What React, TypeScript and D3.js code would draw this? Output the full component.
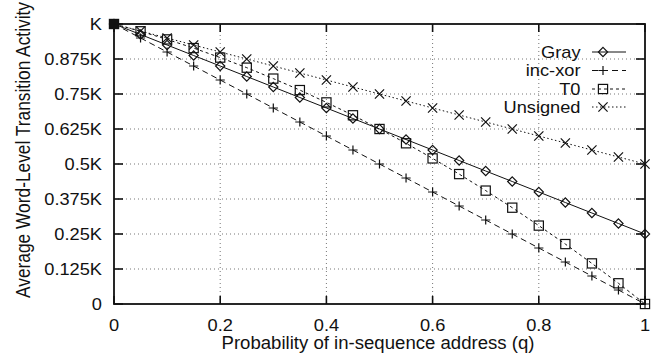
import React from "react";
import * as d3 from "d3";

const q = [0, 0.05, 0.1, 0.15, 0.2, 0.25, 0.3, 0.35, 0.4, 0.45, 0.5, 0.55, 0.6, 0.65, 0.7, 0.75, 0.8, 0.85, 0.9, 0.95, 1];
const gray = [1, 0.9625, 0.925, 0.8875, 0.85, 0.8125, 0.775, 0.7375, 0.7, 0.6625, 0.625, 0.5875, 0.55, 0.5125, 0.475, 0.4375, 0.4, 0.3625, 0.325, 0.2875, 0.25];
const incXor = [1, 0.95, 0.9, 0.85, 0.8, 0.75, 0.7, 0.65, 0.6, 0.55, 0.5, 0.45, 0.4, 0.35, 0.3, 0.25, 0.2, 0.15, 0.1, 0.05, 0];
const t0 = [1, 0.974, 0.945, 0.914, 0.88, 0.844, 0.805, 0.764, 0.72, 0.674, 0.625, 0.574, 0.52, 0.464, 0.405, 0.344, 0.28, 0.214, 0.145, 0.074, 0];
const unsigned = [1, 0.975, 0.95, 0.925, 0.9, 0.875, 0.85, 0.825, 0.8, 0.775, 0.75, 0.725, 0.7, 0.675, 0.65, 0.625, 0.6, 0.575, 0.55, 0.525, 0.5];

const seriesNames = ["Gray", "inc-xor", "T0", "Unsigned"];
const seriesValues = [gray, incXor, t0, unsigned];
const seriesMarkers = ["diamond", "plus", "square", "cross"];
const seriesDash = ["none", "6,4", "3,3", "1.5,2.5"];

const yTicks = [0, 0.125, 0.25, 0.375, 0.5, 0.625, 0.75, 0.875, 1];
const yTickLabels = ["0", "0.125K", "0.25K", "0.375K", "0.5K", "0.625K", "0.75K", "0.875K", "K"];
const xTicks = [0, 0.2, 0.4, 0.6, 0.8, 1];
const xTickLabels = ["0", "0.2", "0.4", "0.6", "0.8", "1"];

const FONT = "'Liberation Sans', Arial, Helvetica, sans-serif";
const SX = 1.14;
const FS = 16;

function Marker({ type, cx, cy }: { type: string; cx: number; cy: number }) {
  const s = 4.6;
  const common = { fill: "none", stroke: "#111", strokeWidth: 1.2 };
  if (type === "diamond")
    return <path d={`M${cx},${cy - s}L${cx + s},${cy}L${cx},${cy + s}L${cx - s},${cy}Z`} {...common} />;
  if (type === "square")
    return <rect x={cx - s} y={cy - s} width={2 * s} height={2 * s} {...common} />;
  if (type === "plus")
    return <path d={`M${cx - s},${cy}H${cx + s}M${cx},${cy - s}V${cy + s}`} {...common} />;
  return <path d={`M${cx - s},${cy - s}L${cx + s},${cy + s}M${cx - s},${cy + s}L${cx + s},${cy - s}`} {...common} />;
}

export default function App() {
  const x = d3.scaleLinear().domain([0, 1]).range([114, 645]);
  const y = d3.scaleLinear().domain([0, 1]).range([304, 24]);
  const line = d3
    .line<number>()
    .x((_, i) => x(q[i]))
    .y((d) => y(d));

  const legendY = [52, 70.5, 89, 107];

  return (
    <svg width={660} height={355} style={{ position: "absolute", left: 0, top: 0, background: "#fff" }} fontFamily={FONT}>
      <rect width={660} height={355} fill="#fff" />
      {/* grid */}
      <g stroke="#666" strokeWidth={0.9} strokeDasharray="1,3">
        {yTicks.slice(1, -1).map((t) => (
          <line key={"gy" + t} x1={x(0)} x2={x(1)} y1={y(t)} y2={y(t)} />
        ))}
        {xTicks.slice(1, -1).map((t) => (
          <line key={"gx" + t} x1={x(t)} x2={x(t)} y1={y(0)} y2={y(1)} />
        ))}
      </g>
      {/* series */}
      {seriesValues.map((vals, si) => (
        <g key={seriesNames[si]}>
          <path d={line(vals) || ""} fill="none" stroke="#111" strokeWidth={1} strokeDasharray={seriesDash[si]} />
          {vals.map((v, i) => (
            <Marker key={i} type={seriesMarkers[si]} cx={x(q[i])} cy={y(v)} />
          ))}
        </g>
      ))}
      {/* overlapping start point */}
      <rect x={x(q[0]) - 4.5} y={y(gray[0]) - 4} width={9} height={8} fill="#111" />
      {/* frame */}
      <rect x={x(0)} y={y(1)} width={x(1) - x(0)} height={y(0) - y(1)} fill="none" stroke="#111" strokeWidth={1.8} />
      {/* ticks */}
      <g stroke="#111" strokeWidth={1.6}>
        {yTicks.map((t) => (
          <g key={"ty" + t}>
            <line x1={x(0)} x2={x(0) + 9} y1={y(t)} y2={y(t)} />
            <line x1={x(1)} x2={x(1) - 9} y1={y(t)} y2={y(t)} />
          </g>
        ))}
        {xTicks.map((t) => (
          <g key={"tx" + t}>
            <line x1={x(t)} x2={x(t)} y1={y(0)} y2={y(0) - 8} />
            <line x1={x(t)} x2={x(t)} y1={y(1)} y2={y(1) + 8} />
          </g>
        ))}
      </g>
      {/* tick labels */}
      <g fontSize={FS} fill="#111">
        {yTicks.map((t, i) => (
          <text key={"ly" + t} transform={`translate(102,${y(t) + 5.8}) scale(${SX},1)`} textAnchor="end">
            {yTickLabels[i]}
          </text>
        ))}
        {xTicks.map((t, i) => (
          <text key={"lx" + t} transform={`translate(${x(t)},330.5) scale(${SX},1)`} textAnchor="middle">
            {xTickLabels[i]}
          </text>
        ))}
      </g>
      {/* axis labels */}
      <text
        x={378}
        y={348.5}
        fontSize={17.5}
        textAnchor="middle"
        textLength={313}
        lengthAdjust="spacingAndGlyphs"
        fill="#111"
      >
        Probability of in-sequence address (q)
      </text>
      <text
        transform={`translate(29.5,150) scale(1.18,1) rotate(-90)`}
        fontSize={17}
        textAnchor="middle"
        textLength={296}
        lengthAdjust="spacingAndGlyphs"
        fill="#111"
      >
        Average Word-Level Transition Activity
      </text>
      {/* legend */}
      {seriesNames.map((name, si) => (
        <g key={"lg" + name}>
          <text transform={`translate(580.5,${legendY[si] + 5.8}) scale(${SX},1)`} textAnchor="end" fontSize={FS} fill="#111">
            {name}
          </text>
          <line x1={592} x2={626} y1={legendY[si]} y2={legendY[si]} stroke="#111" strokeWidth={1} strokeDasharray={seriesDash[si]} />
          <Marker type={seriesMarkers[si]} cx={603} cy={legendY[si]} />
        </g>
      ))}
    </svg>
  );
}
